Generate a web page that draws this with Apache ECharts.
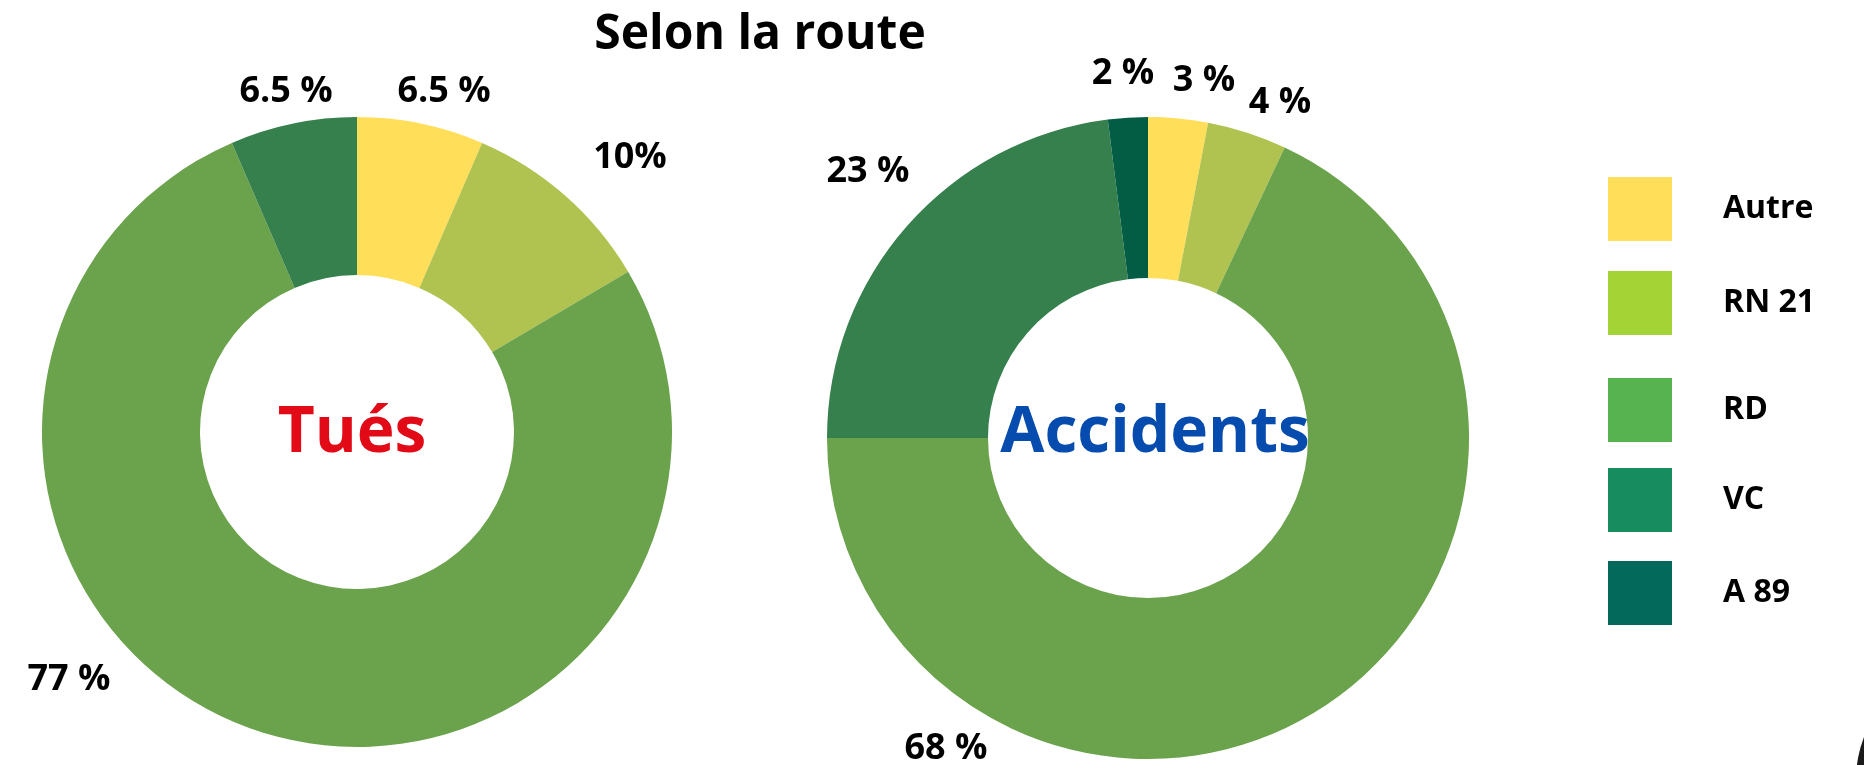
<!DOCTYPE html>
<html>
<head>
<meta charset="utf-8">
<title>Selon la route</title>
<script src="https://cdn.jsdelivr.net/npm/echarts@6/dist/echarts.min.js"></script>
<style>
  html, body { margin: 0; padding: 0; background: #fff; }
  #chart { width: 1864px; height: 765px; }
</style>
</head>
<body>
<div id="chart"></div>
<script>
// categories (route types)
var categories = ['Autre', 'RN 21', 'RD', 'VC', 'A 89'];

// share per route, in %
var tuesValues = [6.5, 10, 77, 6.5, 0];
var accidentsValues = [3, 4, 68, 23, 2];

// labels as written on the picture
var tuesLabels = ['6.5 %', '10%', '77 %', '6.5 %', ''];
var accidentsLabels = ['3 %', '4 %', '68 %', '23 %', '2 %'];

// slice colours and legend colours (they differ in the original)
var sliceColors = ['#FFDE59', '#B0C24F', '#6BA24C', '#36804D', '#035D45'];
var legendColors = ['#FFDE59', '#A3D334', '#57B350', '#178C5E', '#03695A'];

// where each label sits (pixels), one list per donut
var labelPos = [
  [[444, 92], [630, 158], [69, 680], [286, 92], [0, 0]],
  [[1204, 81], [1280, 103], [946, 749], [868, 172], [1123, 74]]
];

// legend squares are not evenly spaced in the original
var legendTops = [177, 271, 378, 468, 561];
var legendTextShift = [4, -2, -5, -4, 0];

var font = '"Open Sans", "Noto Sans", sans-serif';

function buildData(values, labels) {
  var data = [];
  for (var i = 0; i < categories.length; i++) {
    data.push({
      name: categories[i],
      value: values[i],
      itemStyle: { color: sliceColors[i] },
      label: { show: values[i] > 0, formatter: labels[i] }
    });
  }
  return data;
}

function donut(values, labels, center, radius, idx) {
  return {
    type: 'pie',
    center: center,
    radius: radius,
    startAngle: 90,
    clockwise: true,
    avoidLabelOverlap: false,
    silent: true,
    itemStyle: { borderWidth: 0 },
    label: {
      position: 'outside',
      color: '#000',
      fontFamily: font,
      fontWeight: 'bold',
      fontSize: 36
    },
    labelLine: { show: false },
    labelLayout: function (params) {
      var p = labelPos[idx][params.dataIndex];
      return { x: p[0], y: p[1], align: 'center', verticalAlign: 'middle' };
    },
    data: buildData(values, labels)
  };
}

// one legend per item so each square can sit where it is in the original
var legends = [];
for (var i = 0; i < categories.length; i++) {
  var s = legendTextShift[i];
  legends.push({
    orient: 'vertical',
    left: 1608,
    top: legendTops[i],
    padding: 0,
    icon: 'rect',
    itemWidth: 64,
    itemHeight: 64,
    selectedMode: false,
    data: [{ name: categories[i], itemStyle: { color: legendColors[i] } }],
    textStyle: {
      color: '#000',
      fontFamily: font,
      fontWeight: 'bold',
      fontSize: 32,
      padding: [s < 0 ? -s * 2 : 0, 0, s > 0 ? s * 2 : 0, 46]
    }
  });
}

var myChart = echarts.init(document.getElementById('chart'));

var option = {
  animation: false,
  backgroundColor: '#fff',
  legend: legends,
  graphic: [
    {
      type: 'text',
      x: 760, y: 35,
      style: {
        text: 'Selon la route',
        fill: '#000',
        font: 'bold 48px ' + font,
        textAlign: 'center',
        textVerticalAlign: 'middle'
      }
    },
    {
      type: 'text',
      x: 352, y: 434,
      style: {
        text: 'Tués',
        fill: '#E30A17',
        font: 'bold 64px ' + font,
        textAlign: 'center',
        textVerticalAlign: 'middle'
      }
    },
    {
      type: 'text',
      x: 1155, y: 434,
      style: {
        text: 'Accidents',
        fill: '#064BAE',
        font: 'bold 64px ' + font,
        textAlign: 'center',
        textVerticalAlign: 'middle'
      }
    },
    {
      // cut-off logo at the bottom right corner
      type: 'circle',
      shape: { cx: 1976, cy: 780, r: 120 },
      style: { fill: '#1a1a1a' }
    }
  ],
  series: [
    donut(tuesValues, tuesLabels, [357, 432], [157, 315], 0),
    donut(accidentsValues, accidentsLabels, [1148, 438], [160, 321], 1)
  ]
};

myChart.setOption(option);

window.addEventListener('resize', function () {
  if (myChart) {
    myChart.resize();
  }
});
</script>
</body>
</html>
